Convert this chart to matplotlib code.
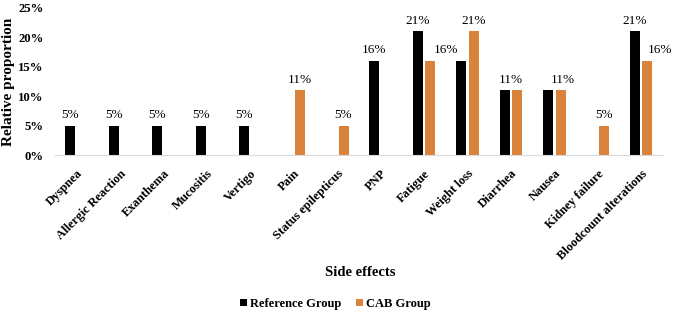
import numpy as np
import matplotlib.pyplot as plt
from matplotlib.ticker import PercentFormatter

plt.rcParams['font.family'] = ['Liberation Serif', 'DejaVu Serif']

# Data
categories = ['Dyspnea', 'Allergic Reaction', 'Exanthema', 'Mucositis', 'Vertigo',
              'Pain', 'Status epilepticus', 'PNP', 'Fatigue', 'Weight loss',
              'Diarrhea', 'Nausea', 'Kidney failure', 'Bloodcount alterations']
reference_group = [5, 5, 5, 5, 5, 0, 0, 16, 21, 16, 11, 11, 0, 21]
cab_group = [0, 0, 0, 0, 0, 11, 5, 0, 16, 21, 11, 11, 5, 16]
series_names = ['Reference Group', 'CAB Group']
colors = ['#000000', '#D8823C']

# label tweaks as in the source (overlapping labels hidden / nudged)
hidden_labels = {(0, 9), (0, 10), (0, 11)}
label_shift = {(1, 8): 0.37, (1, 13): 0.3, (1, 10): -0.14, (1, 11): 0.05}

fig = plt.figure(figsize=(6.75, 3.14), dpi=100)
ax = fig.add_axes([0.0815, 0.506, 0.9005, 0.469])

x = np.arange(len(categories))
width = 0.23
offset = 0.145
for k, (vals, off, col, name) in enumerate(zip([reference_group, cab_group], [-offset, offset],
                                               colors, series_names)):
    bars = ax.bar(x + off, vals, width, color=col, label=name)
    for i, (b, v) in enumerate(zip(bars, vals)):
        if v > 0 and (k, i) not in hidden_labels:
            xc = b.get_x() + b.get_width() / 2 + label_shift.get((k, i), 0)
            ax.text(xc, v + 0.8, '{}%'.format(v), ha='center', va='bottom', fontsize=9.5)

ax.set_xlim(-0.5, len(categories) - 0.5)
ax.set_ylim(0, 25)
ax.set_yticks(np.arange(0, 26, 5))
ax.yaxis.set_major_formatter(PercentFormatter(decimals=0))
for s in ['top', 'right', 'left']:
    ax.spines[s].set_visible(False)
ax.spines['bottom'].set_color('#D9D9D9')
ax.tick_params(axis='both', length=0)
ax.tick_params(axis='y', pad=8)
ax.tick_params(axis='x', pad=9)
ax.set_xticks(x)
ax.set_xticklabels(categories, rotation=45, ha='right', rotation_mode='anchor',
                   fontweight='bold', fontsize=9)
for t in ax.get_yticklabels():
    t.set_fontweight('bold')
    t.set_fontsize(9.2)

ax.set_ylabel('Relative proportion', fontweight='bold', fontsize=11)
ax.yaxis.set_label_coords(-0.066, 0.5)
fig.text(0.533, 0.131, 'Side effects', ha='center', va='center', fontweight='bold', fontsize=10.5)

fig.legend(loc='center', bbox_to_anchor=(0.497, 0.032), ncol=2, frameon=False,
           handlelength=0.55, handleheight=0.55, handletextpad=0.25, columnspacing=1.2,
           prop={'weight': 'bold', 'size': 9})

fig.savefig('out.png', dpi=100)
